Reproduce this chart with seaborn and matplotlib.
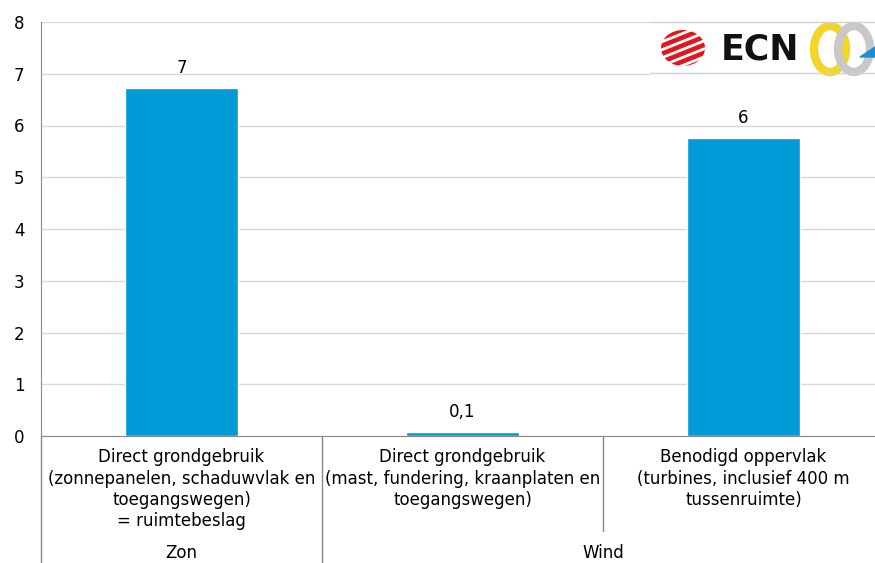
import numpy as np
import pandas as pd
import matplotlib.pyplot as plt
import seaborn as sns
from matplotlib.patches import Polygon, Rectangle, Ellipse

# data
categories = ["Direct grondgebruik\n(zonnepanelen, schaduwvlak en\ntoegangswegen)\n= ruimtebeslag",
              "Direct grondgebruik\n(mast, fundering, kraanplaten en\ntoegangswegen)",
              "Benodigd oppervlak\n(turbines, inclusief 400 m\ntussenruimte)"]
values = [6.72, 0.07, 5.76]
value_labels = ["7", "0,1", "6"]
groups = ["Zon", "Wind"]
group_spans = [(0, 0), (1, 2)]

sns.set_style("white")
plt.rcParams['font.family'] = ['Liberation Sans Narrow', 'DejaVu Sans']
plt.rcParams['text.color'] = 'black'

W, H = 875, 563
fig = plt.figure(figsize=(W / 100, H / 100), dpi=100)
# axes in pixel terms: left 41, right 884, top 22, bottom 436
L, R, T, B = 41, 884, 22, 436
ax = fig.add_axes([L / W, 1 - B / H, (R - L) / W, (B - T) / H])

df = pd.DataFrame({"cat": categories, "val": values})
sns.barplot(data=df, x="cat", y="val", color="#009ad7", width=0.4, saturation=1, ax=ax, zorder=3)

ax.set_ylim(0, 8)
ax.set_xlim(-0.5, 2.5)
ax.set_yticks(range(0, 9))
ax.yaxis.grid(True, color="#d9d9d9", lw=1)
ax.set_axisbelow(True)
ax.set_xlabel("")
ax.set_ylabel("")
ax.set_xticks([])
for s in ["top", "right"]:
    ax.spines[s].set_visible(False)
ax.spines["left"].set_color("#888888")
ax.spines["bottom"].set_color("#888888")
ax.tick_params(axis="y", length=4, color="#888888", labelsize=12, pad=8, labelcolor="black")

for i, (v, lab) in enumerate(zip(values, value_labels)):
    ax.annotate(lab, (i, v), xytext=(0, 8), textcoords="offset points",
                ha="center", va="bottom", fontsize=12)

ph = B - T
def ay(py):
    return (B - py) / ph

tr = ax.get_xaxis_transform()
for i, c in enumerate(categories):
    ax.text(i, ay(448), c, transform=tr, ha="center", va="top", fontsize=12,
            linespacing=1.25)

# separators between categories / groups
ax.plot([-0.5, -0.5], [0, ay(H)], transform=tr, color="#888888", lw=1, clip_on=False)
ax.plot([0.5, 0.5], [0, ay(H)], transform=tr, color="#888888", lw=1, clip_on=False)
ax.plot([1.5, 1.5], [0, ay(531)], transform=tr, color="#888888", lw=1, clip_on=False)

for g, (a, b) in zip(groups, group_spans):
    ax.text((a + b) / 2, ay(553), g, transform=tr, ha="center", va="center", fontsize=12)

# logo (approximation), pixel coords offset by x=650, y=20
lax = fig.add_axes([650 / W, 1 - 76 / H, 225 / W, 56 / H])
lax.set_xlim(0, 225)
lax.set_ylim(56, 0)
lax.axis("off")
lax.add_patch(Rectangle((0, 0), 225, 56, color="white", zorder=0))
lax.plot([0, 225], [2, 2], color="#d0d0d0", lw=1)
lax.plot([0, 225], [53, 53], color="#d0d0d0", lw=1)
clip = Ellipse((33, 28), 44, 36, transform=lax.transData, visible=False)
lax.add_patch(clip)
for k in range(6):
    y0 = 6 + k * 8
    band = Polygon([[5, y0 + 12], [60, y0 - 10], [60, y0 - 5], [5, y0 + 17]],
                   closed=True, color="#e3161b", lw=0)
    lax.add_patch(band)
    band.set_clip_path(clip)
lax.text(110, 29, "ECN", fontsize=25, fontweight="bold", color="#111111",
         ha="center", va="center", family="DejaVu Sans")
lax.add_patch(Ellipse((180, 29), 32, 46, fill=False, ec="#f2d52a", lw=6))
lax.add_patch(Ellipse((204, 29), 32, 46, fill=False, ec="#c8c8c8", lw=6))
lax.add_patch(Polygon([[210, 37], [225, 27], [225, 37]], closed=True, color="#1a8fd0"))

fig.savefig("out.png", dpi=100)
